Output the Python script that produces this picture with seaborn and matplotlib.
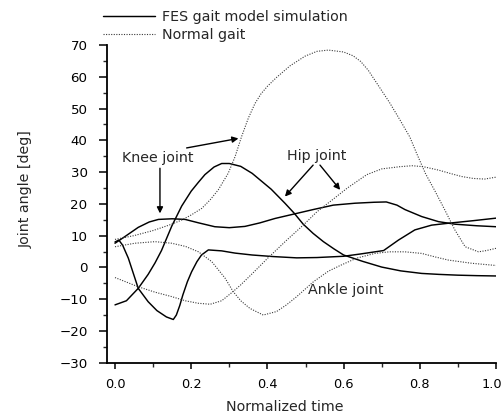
import matplotlib
matplotlib.use("Agg")
import matplotlib.pyplot as plt
import matplotlib.transforms as mtransforms
from matplotlib.lines import Line2D
from matplotlib.ticker import MultipleLocator, FormatStrFormatter
import seaborn as sns
import pandas as pd

# FES gait model simulation (solid curves)
knee_fes_t = [0.0, 0.03, 0.061, 0.087, 0.105, 0.122, 0.149, 0.175, 0.2, 0.219, 0.236, 0.26,
              0.28, 0.3, 0.33, 0.36, 0.41, 0.446, 0.47, 0.494, 0.52, 0.547, 0.575, 0.6,
              0.65, 0.7, 0.75, 0.805, 0.85, 0.9, 0.95, 1.0]
knee_fes = [-11.8, -10.5, -6.6, -2.2, 1.4, 5.3, 13.0, 19.3, 24.0, 26.8, 29.2, 31.6,
            32.7, 32.7, 31.8, 29.6, 24.6, 20.2, 17.1, 13.6, 10.7, 8.1, 5.8, 3.9,
            1.9, 0.1, -1.1, -1.9, -2.2, -2.45, -2.6, -2.7]

hip_fes_t = [0.0, 0.026, 0.061, 0.09, 0.114, 0.15, 0.184, 0.22, 0.262, 0.3, 0.341, 0.38,
             0.42, 0.47, 0.52, 0.573, 0.63, 0.68, 0.712, 0.74, 0.761, 0.805, 0.849,
             0.892, 0.95, 1.0]
hip_fes = [7.6, 9.7, 12.6, 14.3, 15.1, 15.3, 15.1, 14.0, 12.8, 12.5, 12.9, 14.0,
           15.4, 16.8, 18.2, 19.6, 20.2, 20.5, 20.6, 19.6, 18.2, 16.0, 14.4,
           13.6, 13.1, 12.8]

ankle_fes_t = [0.0, 0.01, 0.02, 0.035, 0.061, 0.087, 0.11, 0.135, 0.153, 0.161, 0.17,
               0.178, 0.19, 0.201, 0.215, 0.227, 0.245, 0.28, 0.315, 0.36, 0.416, 0.477,
               0.53, 0.6, 0.643, 0.705, 0.744, 0.787, 0.831, 0.875, 0.94, 1.0]
ankle_fes = [8.0, 8.6, 7.0, 2.9, -6.6, -10.8, -13.6, -15.6, -16.4, -15.0, -12.0,
             -8.7, -4.5, -1.4, 1.8, 3.9, 5.5, 5.2, 4.5, 3.9, 3.4, 3.0,
             3.1, 3.5, 4.2, 5.3, 8.6, 11.8, 13.3, 13.9, 14.7, 15.5]

# Normal gait (dotted curves)
knee_nor_t = [0.0, 0.05, 0.1, 0.144, 0.175, 0.2, 0.228, 0.25, 0.271, 0.297, 0.315, 0.332,
              0.35, 0.367, 0.383, 0.4, 0.424, 0.46, 0.499, 0.53, 0.56, 0.6, 0.625, 0.645,
              0.665, 0.687, 0.72, 0.748, 0.774, 0.792, 0.815, 0.84, 0.866, 0.892, 0.919,
              0.954, 0.975, 1.0]
knee_nor = [8.8, 10.0, 11.6, 13.4, 14.9, 16.5, 18.6, 21.3, 24.4, 29.6, 34.8, 41.1,
            47.0, 51.5, 54.6, 57.0, 59.8, 63.5, 66.5, 68.0, 68.4, 67.8, 66.6, 64.8,
            62.0, 58.0, 52.0, 46.4, 41.0, 35.8, 29.5, 24.0, 18.0, 11.8, 6.5,
            4.9, 5.3, 6.0]

hip_nor_t = [0.0, 0.061, 0.105, 0.149, 0.184, 0.219, 0.25, 0.28, 0.31, 0.33, 0.36, 0.4,
             0.45, 0.494, 0.53, 0.573, 0.61, 0.661, 0.7, 0.748, 0.78, 0.809, 0.85, 0.879,
             0.91, 0.94, 0.97, 1.0]
hip_nor = [-3.2, -6.1, -7.8, -9.2, -10.5, -11.3, -11.6, -10.5, -7.6, -5.5, -2.0, 2.8,
           8.5, 13.3, 17.5, 21.5, 25.0, 29.2, 31.0, 31.7, 32.0, 31.7, 30.6, 29.6,
           28.6, 28.0, 27.8, 28.4]

ankle_nor_t = [0.0, 0.052, 0.105, 0.149, 0.185, 0.219, 0.254, 0.289, 0.31, 0.33, 0.354,
               0.389, 0.424, 0.45, 0.477, 0.521, 0.56, 0.591, 0.634, 0.682, 0.72, 0.761,
               0.805, 0.84, 0.875, 0.936, 1.0]
ankle_nor = [6.5, 7.6, 8.1, 7.6, 6.6, 4.9, 1.8, -3.4, -7.6, -10.5, -12.9,
             -15.0, -13.9, -11.8, -9.2, -4.5, -1.2, 0.6, 2.9, 4.4, 4.9, 4.9,
             4.4, 3.3, 2.3, 1.3, 0.6]

x_ticks = [0.0, 0.2, 0.4, 0.6, 0.8, 1.0]
legend_labels = ["FES gait model simulation", "Normal gait"]

sns.set_style("ticks")
plt.rcParams["font.family"] = ["DejaVu Sans"]
plt.rcParams["font.size"] = 10.3

fig = plt.figure(figsize=(5.03, 4.19), dpi=100)
ax = fig.add_axes([107 / 503, 1 - 362.7 / 419, 389 / 503, 317.7 / 419])

solid_kw = dict(color="black", linewidth=1.05)
dot_kw = dict(color="#3a3a3a", linewidth=0.8, linestyle=(0, (1, 1.3)))

for t, v in [(knee_fes_t, knee_fes), (hip_fes_t, hip_fes), (ankle_fes_t, ankle_fes)]:
    df = pd.DataFrame({"t": t, "v": v})
    sns.lineplot(data=df, x="t", y="v", ax=ax, sort=False, estimator=None, **solid_kw)

for t, v in [(knee_nor_t, knee_nor), (hip_nor_t, hip_nor), (ankle_nor_t, ankle_nor)]:
    df = pd.DataFrame({"t": t, "v": v})
    sns.lineplot(data=df, x="t", y="v", ax=ax, sort=False, estimator=None, **dot_kw)

ax.set_xlim(-0.021, 1.0)
ax.set_ylim(-30, 70)
ax.set_xticks(x_ticks)
ax.xaxis.set_minor_locator(MultipleLocator(0.1))
ax.xaxis.set_major_formatter(FormatStrFormatter("%.1f"))
ax.yaxis.set_major_locator(MultipleLocator(10))
ax.yaxis.set_minor_locator(MultipleLocator(5))
sns.despine(ax=ax)
for s in ("left", "bottom"):
    ax.spines[s].set_linewidth(1.3)
    ax.spines[s].set_color("black")
ax.tick_params(axis="y", which="major", length=6, width=1.1, pad=8, colors="black",
               labelsize=9.6)
ax.tick_params(axis="y", which="minor", length=3, width=1.0)
ax.tick_params(axis="x", which="major", length=4, width=1.1, pad=7, colors="black",
               labelsize=9.3)
ax.tick_params(axis="x", which="minor", length=3, width=1.0)

ax.set_xlabel("Normalized time")
ax.set_ylabel("Joint angle [deg]")
ax.xaxis.set_label_coords(0.458, -0.117)
ax.yaxis.set_label_coords(-0.19, 0.545)

# nudge the label at the right end of the x axis so it stays inside the figure
fig.canvas.draw()
for tick in ax.xaxis.get_major_ticks():
    if abs(tick.get_loc() - 1.0) < 1e-9:
        lab = tick.label1
        lab.set_transform(lab.get_transform()
                          + mtransforms.ScaledTranslation(-4 / 100, 0, fig.dpi_scale_trans))

arrow = dict(arrowstyle="-|>", color="black", lw=1.0, mutation_scale=9, shrinkA=0, shrinkB=0)
ax.text(0.018, 34.4, "Knee joint", va="center", ha="left")
ax.annotate("", xy=(0.324, 40.6), xytext=(0.188, 37.6), arrowprops=arrow)
ax.annotate("", xy=(0.118, 17.0), xytext=(0.118, 31.2), arrowprops=arrow)
ax.text(0.451, 35.2, "Hip joint", va="center", ha="left")
ax.annotate("", xy=(0.446, 22.3), xytext=(0.52, 32.2), arrowprops=arrow)
ax.annotate("", xy=(0.591, 24.4), xytext=(0.538, 32.2), arrowprops=arrow)
ax.text(0.507, -7.1, "Ankle joint", va="center", ha="left")

handles = [Line2D([], [], **solid_kw), Line2D([], [], **dot_kw)]
fig.legend(handles, legend_labels, loc="upper left", bbox_to_anchor=(103 / 503, 1 - 10 / 419),
           frameon=False, handlelength=3.6, handletextpad=0.55, labelspacing=0.3,
           borderpad=0, borderaxespad=0)

fig.savefig("out.png", dpi=100)
